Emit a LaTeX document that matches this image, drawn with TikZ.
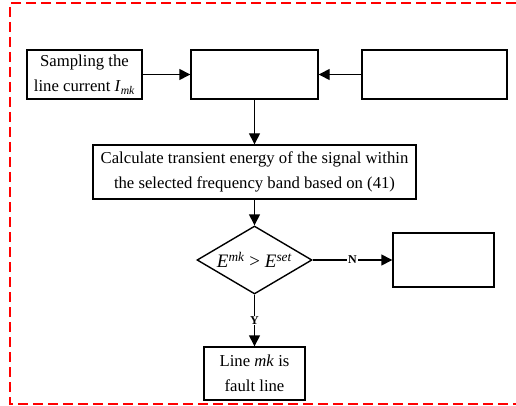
\documentclass[tikz,border=0pt]{standalone}
\usepackage{fontspec}
\setmainfont{Liberation Serif}
\usetikzlibrary{arrows.meta,shapes.geometric}
\begin{document}
\begin{tikzpicture}[x=1pt,y=-1pt,
  box/.style={draw,line width=1.4pt,inner sep=0pt,align=center,font=\fontsize{16.7}{25}\selectfont},
  arr/.style={line width=1.4pt,-{Triangle[length=11pt,width=11pt]}},
  lbl/.style={font=\fontsize{12}{12}\selectfont\bfseries,fill=white,inner sep=1pt}]
\useasboundingbox (0,0) rectangle (516,406);
\draw[red,line width=1.2pt,dash pattern=on 10pt off 5pt] (516,3) -- (10,3) -- (10,404) -- (516,404);
\node[box,minimum width=115pt,minimum height=49pt] (samp) at (84.5,74.5) {Sampling the\\line current \textit{I}\textsubscript{\textit{mk}}};
\node[box,minimum width=127pt,minimum height=49pt] (b2) at (254.5,74.5) {};
\node[box,minimum width=145pt,minimum height=49pt] (b3) at (434.5,74.5) {};
\node[box,minimum width=323pt,minimum height=54pt] (calc) at (254.5,172) {Calculate transient energy of the signal within\\the selected frequency band based on (41)};
\node[draw,line width=1.4pt,diamond,aspect=1.7,inner sep=0pt,minimum width=115pt,minimum height=68pt,font=\fontsize{19}{20}\selectfont] (dec) at (254.5,260) {\textit{E}\textsuperscript{\textit{mk}} {>} \textit{E}\textsuperscript{\textit{set}}};
\node[box,minimum width=101pt,minimum height=54pt] (b5) at (443.5,260) {};
\node[box,minimum width=101pt,minimum height=53pt] (fault) at (254.5,373.5) {Line \textit{mk} is\\fault line};
\draw[arr] (samp.east) -- (b2.west);
\draw[arr] (b3.west) -- (b2.east);
\draw[arr] (b2.south) -- (calc.north);
\draw[arr] (calc.south) -- (dec.north);
\draw[arr] (dec.east) -- node[lbl]{N} (b5.west);
\draw[arr] (dec.south) -- node[lbl]{Y} (fault.north);
\end{tikzpicture}
\end{document}
